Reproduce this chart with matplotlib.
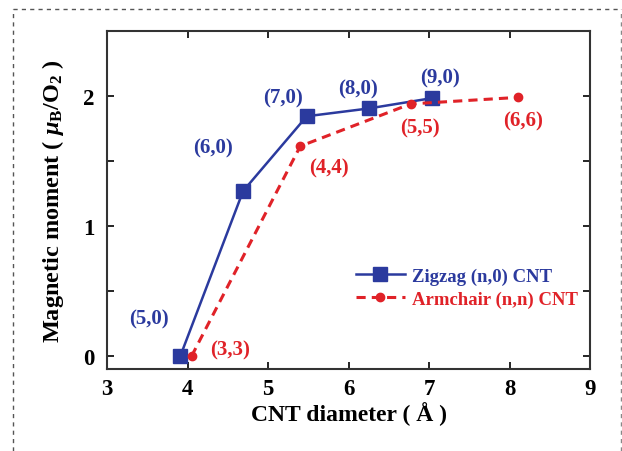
import matplotlib
matplotlib.use('Agg')
import matplotlib.pyplot as plt
from matplotlib.lines import Line2D

plt.rcParams['font.family'] = ['Liberation Serif', 'DejaVu Serif']
plt.rcParams['font.weight'] = 'bold'
plt.rcParams['mathtext.fontset'] = 'custom'
plt.rcParams['mathtext.rm'] = 'Liberation Serif:bold'
plt.rcParams['mathtext.it'] = 'Liberation Serif:italic:bold'
plt.rcParams['mathtext.bf'] = 'Liberation Serif:bold'

# data
zig_d = [3.91, 4.69, 5.48, 6.25, 7.04]
zig_m = [0.0, 1.27, 1.845, 1.905, 1.985]
zig_names = ['(5,0)', '(6,0)', '(7,0)', '(8,0)', '(9,0)']
zig_text_x = [3.52, 4.32, 5.18, 6.12, 7.14]
zig_text_y = [0.29, 1.605, 1.99, 2.06, 2.14]

arm_d = [4.05, 5.40, 6.77, 8.10]
arm_m = [0.0, 1.615, 1.94, 1.99]
arm_names = ['(3,3)', '(4,4)', '(5,5)', '(6,6)']
arm_text_x = [4.53, 5.76, 6.88, 8.16]
arm_text_y = [0.05, 1.45, 1.756, 1.81]

blue = '#2b3a9e'
red = '#e02228'

fig = plt.figure(figsize=(6.22, 4.52), dpi=100)
ax = fig.add_axes([0.172, 0.181, 0.777, 0.748])

ax.plot(zig_d, zig_m, '-', color=blue, lw=1.8, marker='s', ms=10,
        label='Zigzag (n,0) CNT')
ax.plot(arm_d, arm_m, '--', color=red, lw=2.2, marker='o', ms=6,
        dashes=(3, 2), label='Armchair (n,n) CNT')

for name, x, y in zip(zig_names, zig_text_x, zig_text_y):
    ax.text(x, y, name, color=blue, fontsize=15, fontweight='bold',
            ha='center', va='center')
for name, x, y in zip(arm_names, arm_text_x, arm_text_y):
    ax.text(x, y, name, color=red, fontsize=15, fontweight='bold',
            ha='center', va='center')

ax.set_xlim(3, 9)
ax.set_ylim(-0.1, 2.5)
ax.set_xticks([3, 4, 5, 6, 7, 8, 9])
ax.set_yticks([0, 1, 2])
ax.set_yticks([0.5, 1.5], minor=True)
ax.tick_params(which='both', direction='in', top=True, right=True,
               labelsize=16.5, length=5, width=1.2)
ax.tick_params(axis='y', pad=9)
ax.tick_params(axis='x', pad=6)
for s in ax.spines.values():
    s.set_linewidth(1.5)
    s.set_color('#333333')

ax.set_xlabel('CNT diameter ( Å )', fontsize=17, fontweight='bold', labelpad=2)
ax.set_ylabel(r'Magnetic moment ( $\mathit{\mu}_{\rm B}$/O$_{\rm 2}$ )',
              fontsize=17.5, fontweight='bold', labelpad=12)

leg = ax.legend(loc='upper left', bbox_to_anchor=(0.48, 0.35), frameon=False,
                fontsize=13.5, handlelength=2.6, handletextpad=0.4,
                labelspacing=0.3)
for t, c in zip(leg.get_texts(), [blue, red]):
    t.set_color(c)

# dashed border round the figure
fig.add_artist(Line2D([0.021, 0.021], [0.0, 0.978], transform=fig.transFigure,
                      color='#555555', lw=1, ls=(0, (3, 3))))
fig.add_artist(Line2D([0.021, 0.998], [0.978, 0.978], transform=fig.transFigure,
                      color='#555555', lw=1, ls=(0, (3, 3))))
fig.add_artist(Line2D([0.998, 0.998], [0.0, 0.978], transform=fig.transFigure,
                      color='#888888', lw=1, ls=(0, (3, 3))))

fig.savefig('out.png', dpi=100)
